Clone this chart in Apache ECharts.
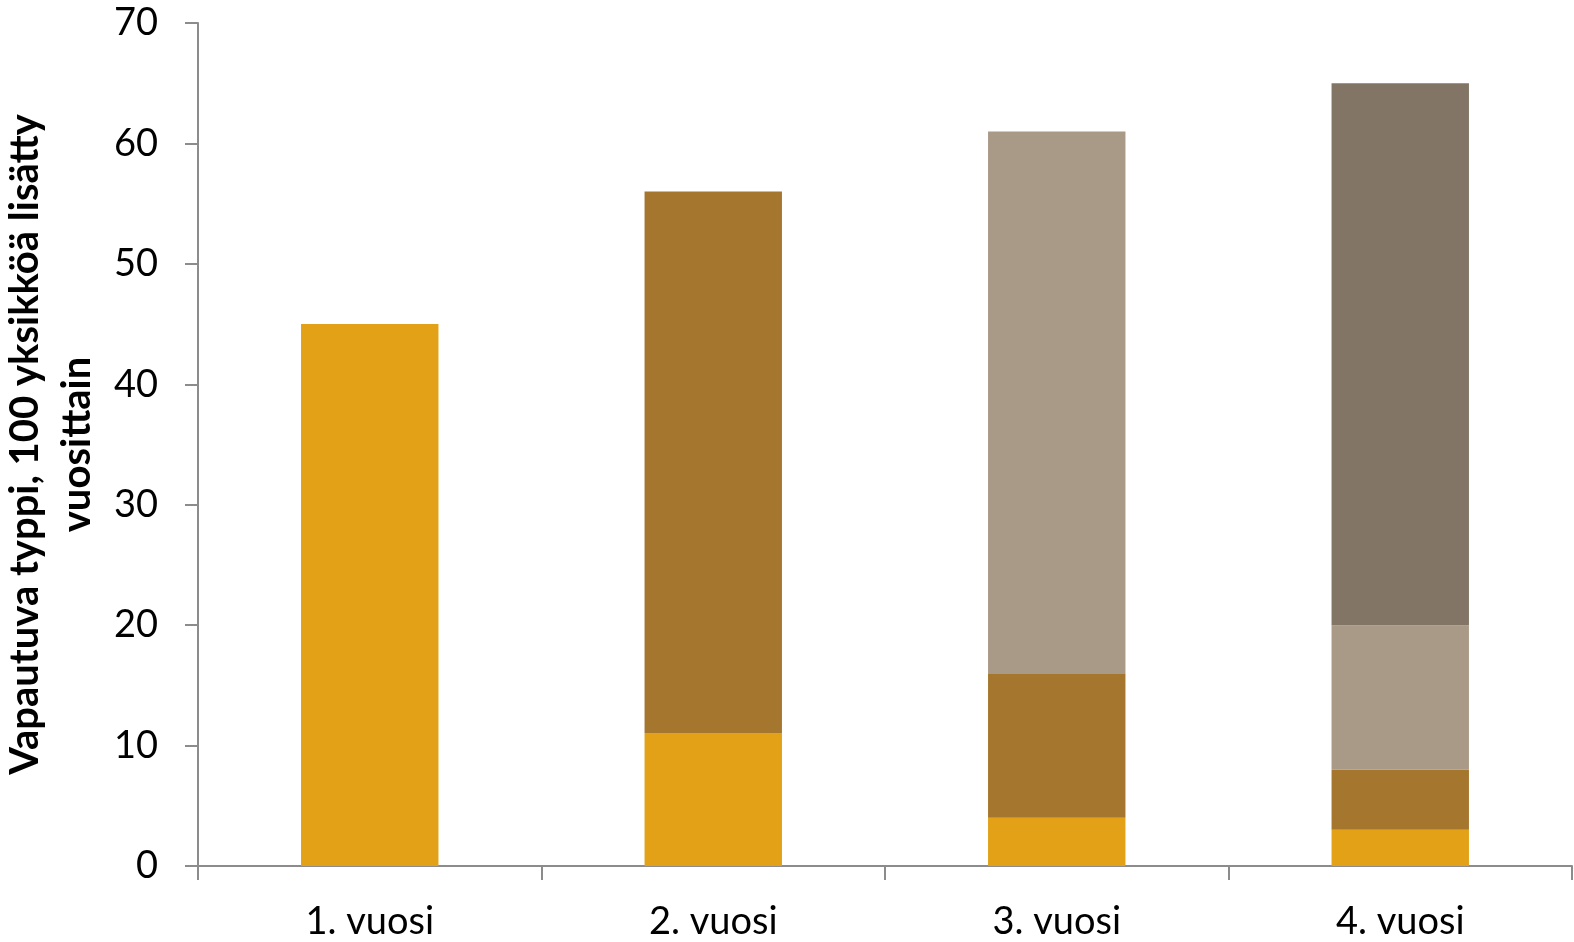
<!DOCTYPE html>
<html>
<head>
<meta charset="utf-8">
<script src="https://cdn.jsdelivr.net/npm/echarts@6/dist/echarts.min.js"></script>
<style>
  html, body { margin: 0; padding: 0; background: #fff; }
  #chart { width: 1574px; height: 942px; }
</style>
</head>
<body>
<div id="chart"></div>
<script>
// vuodet (x-akseli)
var categories = ['1. vuosi', '2. vuosi', '3. vuosi', '4. vuosi'];

// vapautuva typpi kunkin vuoden lisäyksestä
var fromYear1 = [45, 11, 4, 3];
var fromYear2 = [null, 45, 12, 5];
var fromYear3 = [null, null, 45, 12];
var fromYear4 = [null, null, null, 45];

var seriesNames = ['1. vuoden lisäys', '2. vuoden lisäys', '3. vuoden lisäys', '4. vuoden lisäys'];
var colors = ['#E2A116', '#A5762D', '#A99987', '#827566'];

var axisColor = '#8c8c8c';
var font = 'Lato, "Liberation Sans", sans-serif';

var chart = echarts.init(document.getElementById('chart'));

var allSeries = [fromYear1, fromYear2, fromYear3, fromYear4].map(function (d, i) {
  return {
    name: seriesNames[i],
    type: 'bar',
    stack: 'total',
    barWidth: '40%',
    itemStyle: { color: colors[i] },
    data: d
  };
});

var option = {
  animation: false,
  grid: { left: 198, right: 2, top: 23, bottom: 76, containLabel: false, outerBoundsMode: 'none' },
  xAxis: {
    type: 'category',
    data: categories,
    axisLine: { lineStyle: { color: axisColor, width: 2 } },
    axisTick: { show: true, length: 14, lineStyle: { color: axisColor, width: 2 } },
    axisLabel: { color: '#000', fontSize: 38, fontFamily: font, margin: 37 }
  },
  yAxis: {
    type: 'value',
    min: 0,
    max: 70,
    interval: 10,
    name: 'Vapautuva typpi, 100 yksikköä lisätty\nvuosittain',
    nameLocation: 'middle',
    nameGap: 84,
    nameTextStyle: {
      color: '#000',
      fontSize: 40,
      fontWeight: 'bold',
      fontFamily: font,
      lineHeight: 52
    },
    axisLine: { show: true, lineStyle: { color: axisColor, width: 2 } },
    axisTick: { show: true, length: 13, lineStyle: { color: axisColor, width: 2 } },
    splitLine: { show: false },
    axisLabel: { color: '#000', fontSize: 38, fontFamily: font, margin: 40 }
  },
  series: allSeries
};

chart.setOption(option);
</script>
</body>
</html>
